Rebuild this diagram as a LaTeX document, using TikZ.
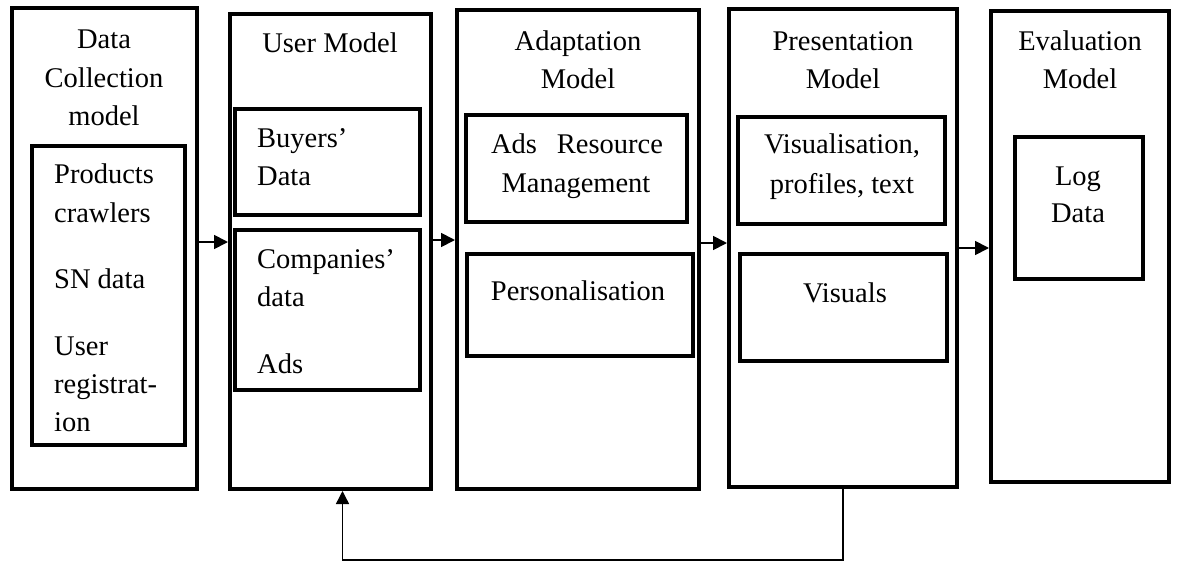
\documentclass[tikz,border=0pt]{standalone}
\usepackage{fontspec}
\setmainfont{Liberation Serif}
\usetikzlibrary{arrows.meta}
\begin{document}
\begin{tikzpicture}[x=1pt,y=-1pt,
  panel/.style={draw,line width=4pt,inner sep=0pt,outer sep=2pt},
  lbl/.style={inner sep=0pt,font=\fontsize{28.5}{38}\selectfont},
  flow/.style={line width=1.8pt,-{Triangle[length=14pt,width=14pt]}},
  back/.style={line width=1.4pt,-{Triangle[length=13pt,width=13pt]}}]
\useasboundingbox (0,0) rectangle (1178,562);

% outer model columns
\node[panel,minimum width=185pt,minimum height=481pt] (dc) at (104.5,248.5) {};
\node[panel,minimum width=201pt,minimum height=475pt] (um) at (330.5,251.5) {};
\node[panel,minimum width=242pt,minimum height=479pt] (am) at (578,249.5) {};
\node[panel,minimum width=228pt,minimum height=478pt] (pm) at (843,248) {};
\node[panel,minimum width=178pt,minimum height=471pt] (em) at (1080,246.5) {};

% inner component boxes
\node[panel,minimum width=153pt,minimum height=299pt] (dcin) at (108.5,295.5) {};
\node[panel,minimum width=185pt,minimum height=106pt] (buy) at (327.5,162) {};
\node[panel,minimum width=185pt,minimum height=160pt] (comp) at (327.5,310) {};
\node[panel,minimum width=221pt,minimum height=107pt] (arm) at (576.5,168.5) {};
\node[panel,minimum width=226pt,minimum height=102pt] (pers) at (580,305) {};
\node[panel,minimum width=207pt,minimum height=107pt] (vis) at (841.5,170.5) {};
\node[panel,minimum width=207pt,minimum height=107pt] (visu) at (843.5,307.5) {};
\node[panel,minimum width=128pt,minimum height=142pt] (log) at (1079,208) {};

% column titles
\node[lbl,anchor=base] (t1a) at (104,48) {Data};
\node[lbl,anchor=base] (t1b) at (104,87) {Collection};
\node[lbl,anchor=base] (t1c) at (104,125) {model};
\node[lbl,anchor=base] (t2) at (330,52) {User Model};
\node[lbl,anchor=base] (t3a) at (578,50) {Adaptation};
\node[lbl,anchor=base] (t3b) at (578,88) {Model};
\node[lbl,anchor=base] (t4a) at (843,50) {Presentation};
\node[lbl,anchor=base] (t4b) at (843,88) {Model};
\node[lbl,anchor=base] (t5a) at (1080,50) {Evaluation};
\node[lbl,anchor=base] (t5b) at (1080,88) {Model};

% data collection sources
\node[lbl,anchor=base west] (s1) at (54,183) {Products};
\node[lbl,anchor=base west] (s2) at (54,222) {crawlers};
\node[lbl,anchor=base west] (s3) at (54,288) {SN data};
\node[lbl,anchor=base west] (s4) at (54,355) {User};
\node[lbl,anchor=base west] (s5) at (54,393) {registrat-};
\node[lbl,anchor=base west] (s6) at (54,431) {ion};

% user model contents
\node[lbl,anchor=base west] (u1) at (257,147) {Buyers’};
\node[lbl,anchor=base west] (u2) at (257,185) {Data};
\node[lbl,anchor=base west] (u3) at (257,268) {Companies’};
\node[lbl,anchor=base west] (u4) at (257,306) {data};
\node[lbl,anchor=base west] (u5) at (257,373) {Ads};

% adaptation contents
\node[lbl,anchor=base] (a1) at (577,153) {Ads\hspace{20pt}Resource};
\node[lbl,anchor=base] (a2) at (576,192) {Management};
\node[lbl,anchor=base] (a3) at (578,300) {Personalisation};

% presentation contents
\node[lbl,anchor=base] (p1) at (842,153) {Visualisation,};
\node[lbl,anchor=base] (p2) at (842,193) {profiles, text};
\node[lbl,anchor=base] (p3) at (845,302) {Visuals};

% evaluation contents
\node[lbl,anchor=base] (e1) at (1078,185) {Log};
\node[lbl,anchor=base] (e2) at (1078,222) {Data};

% forward flow between columns
\draw[flow] (dc.east |- {(0,242)}) -- (um.west |- {(0,242)});
\draw[flow] (um.east |- {(0,240)}) -- (am.west |- {(0,240)});
\draw[flow] (am.east |- {(0,243)}) -- (pm.west |- {(0,243)});
\draw[flow] (pm.east |- {(0,248)}) -- (em.west |- {(0,248)});

% feedback from presentation back to the user model
\coordinate (fbend) at ([xshift=12pt]um.south);
\draw[back] (pm.south) -- ++(0,71) -| (fbend);
\end{tikzpicture}
\end{document}
